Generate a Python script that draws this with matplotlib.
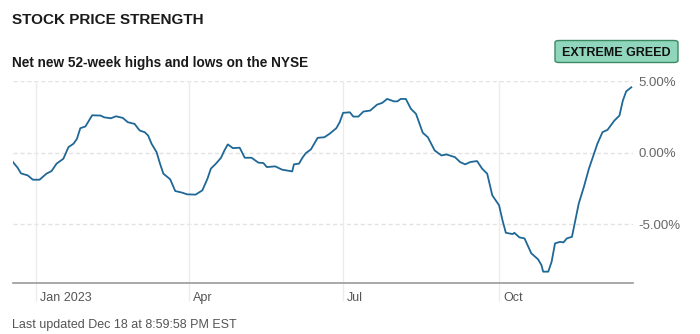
import numpy as np
import pandas as pd
import matplotlib
matplotlib.use("Agg")
import matplotlib.pyplot as plt
import matplotlib.transforms as mtrans
from matplotlib.patches import FancyBboxPatch

# net new 52-week highs/lows (percent)
dates = ["2022-12-18", "2022-12-19", "2022-12-21", "2022-12-23", "2022-12-27", "2022-12-30",
         "2023-01-03", "2023-01-07", "2023-01-10", "2023-01-13", "2023-01-17", "2023-01-20",
         "2023-01-23", "2023-01-25", "2023-01-27", "2023-01-30", "2023-02-03", "2023-02-08",
         "2023-02-10", "2023-02-14", "2023-02-17", "2023-02-21", "2023-02-24", "2023-02-28",
         "2023-03-03", "2023-03-06", "2023-03-08", "2023-03-10", "2023-03-13", "2023-03-15",
         "2023-03-17", "2023-03-21", "2023-03-24", "2023-03-28", "2023-03-31", "2023-04-05",
         "2023-04-09", "2023-04-12", "2023-04-14", "2023-04-17", "2023-04-20", "2023-04-22",
         "2023-04-24", "2023-04-27", "2023-05-01", "2023-05-04", "2023-05-08", "2023-05-12",
         "2023-05-15", "2023-05-17", "2023-05-22", "2023-05-26", "2023-06-01", "2023-06-02",
         "2023-06-05", "2023-06-07", "2023-06-09", "2023-06-12", "2023-06-16", "2023-06-20",
         "2023-06-23", "2023-06-27", "2023-06-29", "2023-07-01", "2023-07-05", "2023-07-07",
         "2023-07-10", "2023-07-13", "2023-07-17", "2023-07-21", "2023-07-24", "2023-07-27",
         "2023-07-31", "2023-08-02", "2023-08-04", "2023-08-07", "2023-08-10", "2023-08-13",
         "2023-08-17", "2023-08-20", "2023-08-24", "2023-08-28", "2023-08-31", "2023-09-05",
         "2023-09-08", "2023-09-11", "2023-09-14", "2023-09-18", "2023-09-21", "2023-09-24",
         "2023-09-27", "2023-10-01", "2023-10-03", "2023-10-05", "2023-10-09", "2023-10-10",
         "2023-10-13", "2023-10-16", "2023-10-20", "2023-10-24", "2023-10-26", "2023-10-27",
         "2023-10-30", "2023-11-01", "2023-11-03", "2023-11-06", "2023-11-08", "2023-11-10",
         "2023-11-13", "2023-11-15", "2023-11-17", "2023-11-20", "2023-11-23", "2023-11-26",
         "2023-11-28", "2023-12-01", "2023-12-04", "2023-12-08", "2023-12-11", "2023-12-13",
         "2023-12-15", "2023-12-18"]
values = [-0.60, -0.76, -1.04, -1.44, -1.58, -1.88,
          -1.88, -1.46, -1.28, -0.76, -0.42, 0.39,
          0.63, 0.97, 1.71, 1.83, 2.61, 2.59,
          2.47, 2.40, 2.54, 2.43, 2.13, 2.01,
          1.55, 1.43, 1.20, 0.63, 0.04, -0.76,
          -1.46, -1.85, -2.67, -2.78, -2.90, -2.92,
          -2.62, -1.81, -1.11, -0.76, -0.35, 0.16,
          0.58, 0.32, 0.35, -0.35, -0.35, -0.69,
          -0.72, -1.00, -0.95, -1.18, -1.30, -0.81,
          -0.76, -0.35, -0.03, 0.23, 1.04, 1.08,
          1.32, 1.71, 2.13, 2.78, 2.82, 2.52,
          2.52, 2.87, 2.94, 3.35, 3.47, 3.75,
          3.58, 3.58, 3.75, 3.75, 3.06, 2.71,
          1.39, 1.08, 0.16, -0.19, -0.12, -0.31,
          -0.65, -0.81, -0.65, -0.58, -1.11, -1.46,
          -2.97, -3.66, -4.70, -5.58, -5.67, -5.58,
          -5.90, -5.97, -7.01, -7.43, -7.83, -8.29,
          -8.29, -7.60, -6.32, -6.21, -6.25, -5.97,
          -5.86, -4.70, -3.54, -2.39, -1.11, -0.07,
          0.63, 1.43, 1.60, 2.24, 2.59, 3.63,
          4.28, 4.56]

yticks = [5, 0, -5]
xtick_dates = ["2023-01-01", "2023-04-01", "2023-07-01", "2023-10-01"]
xtick_labels = ["Jan 2023", "Apr", "Jul", "Oct"]

x = pd.to_datetime(dates)

fig = plt.figure(figsize=(7, 3.34), dpi=100)
ax = fig.add_axes([12.5/700, (334-283)/334, (633-12.5)/700, (283-81)/334])

ax.plot(x, values, color="#1f6896", lw=1.3, solid_joinstyle="round", zorder=3)

ax.set_xlim(pd.Timestamp("2022-12-18"), pd.Timestamp("2023-12-19"))
ax.set_ylim(-9.08, 5.0)

# gridlines
for v in yticks:
    ax.axhline(v, color="#e2e2e2", lw=1, ls=(0, (3, 2)), zorder=1)
for d in xtick_dates:
    ax.axvline(pd.Timestamp(d), color="#ececec", lw=1, zorder=1)

for s in ["top", "left", "right"]:
    ax.spines[s].set_visible(False)
ax.spines["bottom"].set_color("#9a9a9a")
ax.spines["bottom"].set_linewidth(1.2)

ax.set_xticks(pd.to_datetime(xtick_dates))
ax.set_xticklabels(xtick_labels, ha="left", fontsize=9, color="#555555",
                   family="Liberation Sans")
ax.tick_params(axis="x", length=13, width=1, color="#ececec", pad=-6.5)
offset = mtrans.ScaledTranslation(4/100, 0, fig.dpi_scale_trans)
for lab in ax.get_xticklabels():
    lab.set_transform(lab.get_transform() + offset)

ax.yaxis.tick_right()
ax.set_yticks(yticks)
ax.set_yticklabels(["%.2f%%" % v for v in yticks], fontsize=9.5, color="#666666",
                   family="Liberation Sans")
ax.tick_params(axis="y", length=0, pad=4)

fig.text(12.5/700, 1 - 20/334, "STOCK PRICE STRENGTH", fontsize=11, fontweight="bold",
         color="#1a1a1a", va="center", ha="left", family="Liberation Sans")
fig.text(12.5/700, 1 - 63/334, "Net new 52-week highs and lows on the NYSE", fontsize=9.8,
         fontweight="bold", color="#1a1a1a", va="center", ha="left", family="Liberation Sans")
fig.text(12.5/700, 1 - 325/334, "Last updated Dec 18 at 8:59:58 PM EST", fontsize=9,
         color="#555555", va="center", ha="left", family="Liberation Sans")

badge = FancyBboxPatch((555/700, 1 - 62.5/334), 123/700, 22/334,
                       boxstyle="round,pad=0,rounding_size=0.006",
                       transform=fig.transFigure, facecolor="#8fd6bd",
                       edgecolor="#3d8a62", lw=1.0)
fig.patches.append(badge)
fig.text(616.5/700, 1 - 51.5/334, "EXTREME GREED", fontsize=9, fontweight="bold",
         color="#111111", ha="center", va="center_baseline", family="Liberation Sans")

fig.savefig("out.png", dpi=100)
